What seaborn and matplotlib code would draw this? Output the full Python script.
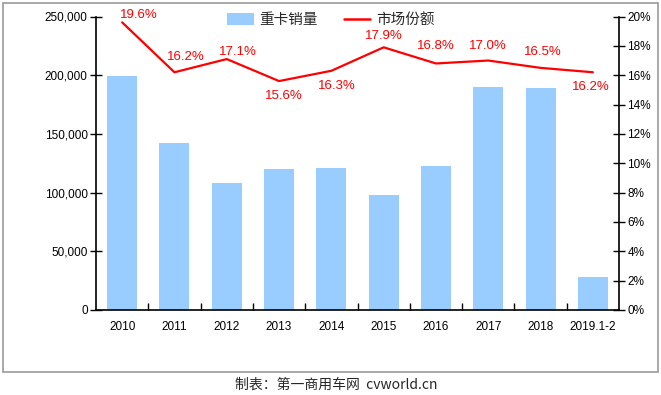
import matplotlib
matplotlib.use("Agg")
import matplotlib.pyplot as plt
import numpy as np
import pandas as pd
import seaborn as sns
from matplotlib.patches import Patch, Rectangle
from matplotlib.lines import Line2D
from matplotlib.ticker import FuncFormatter, FixedLocator

categories = ["2010", "2011", "2012", "2013", "2014", "2015", "2016", "2017", "2018", "2019.1-2"]
sales = [199300, 142300, 108200, 120100, 121000, 98200, 122700, 190000, 189100, 28100]
share = [19.6, 16.2, 17.1, 15.6, 16.3, 17.9, 16.8, 17.0, 16.5, 16.2]
share_labels = ["19.6%", "16.2%", "17.1%", "15.6%", "16.3%", "17.9%", "16.8%", "17.0%", "16.5%", "16.2%"]
label_offsets = [(17, 7), (11, 15), (11, 7), (5, -15), (5, -15), (0, 11), (0, 17), (0, 15), (2, 16), (-2, -15)]

sns.set_style("white")
plt.rcParams["font.family"] = ["Liberation Sans", "Noto Sans CJK SC", "DejaVu Sans"]

fig = plt.figure(figsize=(6.61, 3.95), dpi=100)
ax = fig.add_axes([96 / 661, 1 - 310 / 395, (619 - 96) / 661, (310 - 16.5) / 395])

df = pd.DataFrame({"cat": categories, "sales": sales})
sns.barplot(data=df, x="cat", y="sales", ax=ax, color="#99CCFF", saturation=1, width=0.575, linewidth=0)
ax.set_xlim(-0.5, len(categories) - 0.5)
ax.set_ylim(0, 250000)
ax.set_yticks(np.arange(0, 250001, 50000))
ax.yaxis.set_major_formatter(FuncFormatter(lambda v, p: f"{int(v):,}"))
ax.set_xlabel("")
ax.set_ylabel("")
for s in ["top", "right"]:
    ax.spines[s].set_visible(False)
for s in ["left", "bottom"]:
    ax.spines[s].set_color("black")
    ax.spines[s].set_linewidth(1.2)
ax.tick_params(axis="y", direction="inout", length=8, width=1, colors="black", labelsize=8.5, pad=2, left=True)
ax.tick_params(axis="x", length=0, labelsize=8.5, pad=8, colors="black")
ax.xaxis.set_minor_locator(FixedLocator(np.arange(0.5, len(categories) - 0.5, 1)))
ax.tick_params(axis="x", which="minor", direction="in", length=5, width=1, bottom=True, color="black")

ax2 = ax.twinx()
x = np.arange(len(categories))
sns.lineplot(x=x, y=share, ax=ax2, color="#FF0000", linewidth=1.6, sort=False)
ax2.set_ylim(0, 20)
ax2.set_yticks(np.arange(0, 21, 2))
ax2.yaxis.set_major_formatter(FuncFormatter(lambda v, p: f"{int(v)}%"))
ax2.set_ylabel("")
for s in ["top", "left", "bottom"]:
    ax2.spines[s].set_visible(False)
ax2.spines["right"].set_color("black")
ax2.spines["right"].set_linewidth(1.2)
ax2.tick_params(axis="y", direction="inout", length=8, width=1, colors="black", labelsize=8.5, pad=2, right=True)
ax2.set_xlim(-0.5, len(categories) - 0.5)

for xi, yi, lab, off in zip(x, share, share_labels, label_offsets):
    ax2.annotate(lab, (xi, yi), xytext=off, textcoords="offset pixels",
                 ha="center", va="center", color="#FF0000", fontsize=9.5)

handles = [Patch(facecolor="#99CCFF", edgecolor="none"), Line2D([], [], color="#FF0000", linewidth=1.8)]
fig.legend(handles, ["重卡销量", "市场份额"], loc="center", bbox_to_anchor=(331 / 661, 1 - 20 / 395),
           ncol=2, frameon=False, handlelength=1.8, handleheight=0.8, columnspacing=1.8,
           handletextpad=0.4, prop={"family": "Noto Sans CJK SC", "size": 10.5})

fig.patches.append(Rectangle((3 / 661, 1 - 372 / 395), 655 / 661, 369 / 395, transform=fig.transFigure,
                             fill=False, edgecolor="#999999", linewidth=1.2))
fig.text(336 / 661, 1 - 385 / 395, "制表：第一商用车网  cvworld.cn", ha="center", va="center",
         fontsize=10, family=["Noto Sans CJK SC", "DejaVu Sans"])

fig.savefig("out.png", dpi=100)
